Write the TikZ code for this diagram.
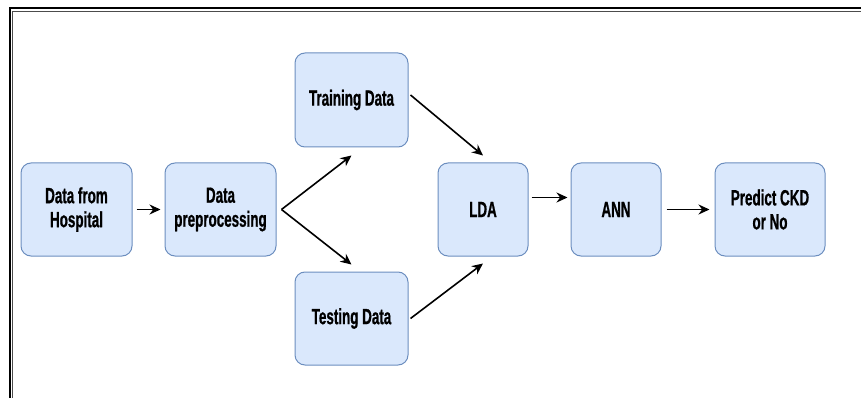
\documentclass[tikz,border=0pt]{standalone}
\usepackage{fontspec}
\setmainfont{Liberation Sans}[FakeStretch=0.61,FakeBold=0.8]
\usetikzlibrary{arrows.meta,positioning}
\definecolor{boxfill}{HTML}{DAE8FC}
\definecolor{boxline}{HTML}{6C8EBF}

\begin{document}
\begin{tikzpicture}[
  x=1pt,y=-1pt,
  every node/.style={draw=boxline,fill=boxfill,rounded corners=10pt,line width=1pt,
    minimum width=111pt,minimum height=93pt,align=center,
    font=\fontsize{22}{24}\selectfont\bfseries},
  >={Stealth[length=11pt,width=10pt]},
  flow/.style={draw,->,line width=1.6pt},
  ]
  \useasboundingbox (0,0) rectangle (861,398);
  % page frame
  \draw[line width=2.5pt] (10,398) -- (10,8) -- (861,8);
  \draw[line width=1pt,black!70] (12.8,398) -- (12.8,11.5) -- (861,11.5);

  \node(hospital) at (76.5,209.5){Data from\\Hospital};
  \node(prep)[right=32pt of hospital]{Data\\preprocessing};
  \node(train)[minimum width=113pt,minimum height=94pt] at (351.5,100){Training Data};
  \node(test)[minimum width=113pt] at (351.5,318.5){Testing Data};
  \node(lda)[minimum width=90pt] at (483,209.5){LDA};
  \node(ann)[right=42pt of lda,minimum width=90pt]{ANN};
  \node(predict)[right=53pt of ann,minimum width=110pt]{Predict CKD\\or No};
  \coordinate(fork) at ([xshift=5pt]prep.east);

  \path[flow] ([xshift=4pt]hospital.east) -- ([xshift=-4pt]prep.west);
  \path[flow] (fork) -- ([yshift=-8pt]train.south);
  \path[flow] (fork) -- ([yshift=7pt]test.north);
  \path[flow] ([shift={(2pt,5pt)}]train.east) -- ([yshift=7pt]lda.north);
  \path[flow] ([xshift=2pt]test.east) -- ([yshift=-7pt]lda.south);
  \path[flow] ([shift={(3pt,12pt)}]lda.east) -- ([shift={(-3pt,12pt)}]ann.west);
  \path[flow] ([xshift=5pt]ann.east) -- ([xshift=-5pt]predict.west);
\end{tikzpicture}
\end{document}
